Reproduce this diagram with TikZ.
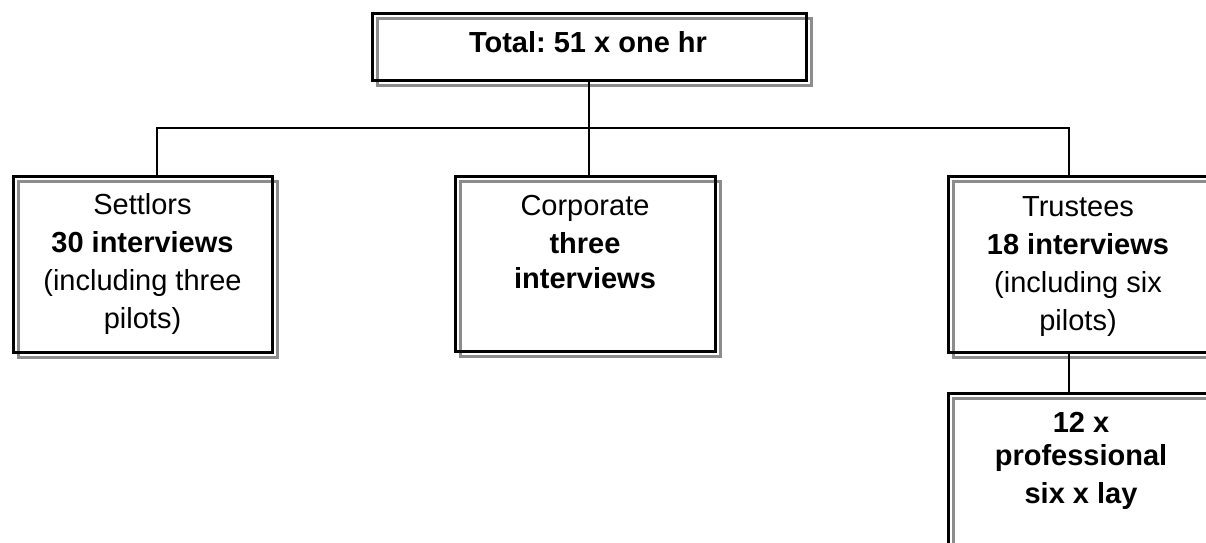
\documentclass[tikz,border=0pt]{standalone}
\usepackage{fontspec}
\setmainfont{Liberation Sans}
\frenchspacing
\begin{document}
\begin{tikzpicture}[x=1pt,y=-1pt,
  box/.style={rectangle, draw=black, line width=3pt, inner sep=0pt,
    preaction={draw=black!45, line width=2.4pt, transform canvas={shift={(5.5pt,-5.5pt)}}}},
  conn/.style={draw=black, line width=1.6pt},
  txt/.style={align=center, inner sep=0pt, font=\fontsize{29}{38}\selectfont, anchor=base}]
\useasboundingbox (0,0) rectangle (1206,542);
% boxes
\node[box, minimum width=434pt, minimum height=67pt] (top) at (589,46.5) {};
\node[box, minimum width=259pt, minimum height=176pt] (set) at (142.5,264) {};
\node[box, minimum width=260pt, minimum height=175pt] (corp) at (585,263.5) {};
\node[box, minimum width=260pt, minimum height=176pt] (trus) at (1078,264) {};
\node[box, minimum width=262pt, minimum height=210pt] (prof) at (1079,498) {};
% connectors
\coordinate (bus) at (589,128);
\draw[conn] (top.south) -- (corp.north -| top.south);
\draw[conn] ([xshift=14.5pt]set.north) |- ([xshift=-9pt]trus.north |- bus) -- ([xshift=-9pt]trus.north);
\draw[conn] ([xshift=-9pt]trus.south) -- ([xshift=-9pt]trus.south |- prof.north);
% texts (anchor=base is the baseline of the last line)
\node[txt] (ttop) at (588,52) {\bfseries Total: 51 x one hr};
\node[txt] (tset) at (142.5,328) {Settlors\\ \bfseries 30 interviews\\ (including three\\ pilots)};
\node[txt] (tcorp) at (585,288) {Corporate\\ \bfseries three\\[-3pt] \bfseries interviews};
\node[txt] (ttrus) at (1078,330) {Trustees\\ \bfseries 18 interviews\\ (including six\\ pilots)};
\node[txt] (tprof) at (1081,503) {\bfseries 12 x\\[-5pt] \bfseries professional\\ \bfseries six x lay};
\end{tikzpicture}
\end{document}
